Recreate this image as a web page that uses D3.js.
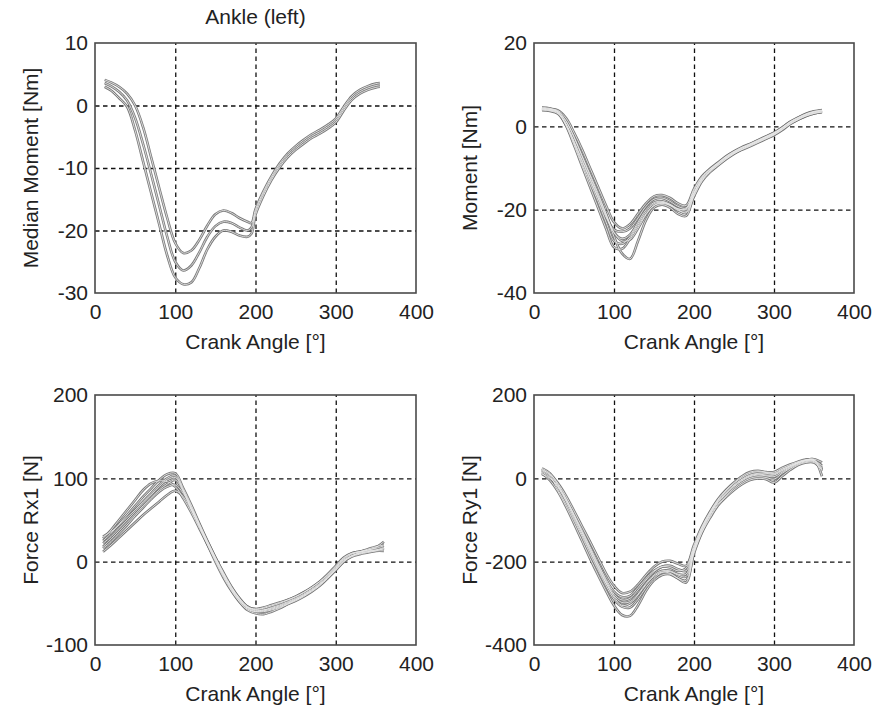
<!DOCTYPE html>
<html>
<head>
<meta charset="utf-8">
<script src="https://cdn.jsdelivr.net/npm/d3@7"></script>
<style>
  body { margin: 0; background: #fff; }
  svg { display: block; }
  text { font-family: "Liberation Sans", Arial, Helvetica, sans-serif; fill: #222; }
</style>
</head>
<body>
<svg id="chart" width="876" height="710"></svg>
<script>
// ---------- data ----------
const crankTicks = [0, 100, 200, 300, 400];

// Ankle median moment: lower band, median, upper band (Nm)
const anglesMedian = [12, 20, 30, 40, 50, 60, 70, 80, 90, 100, 110, 120, 130, 140, 150, 160, 170, 180, 190, 195,
  200, 210, 220, 230, 240, 250, 260, 270, 280, 290, 300, 310, 320, 330, 340, 350, 355];
const medianLower = [3.0, 2.4, 1.2, -0.2, -4.0, -9.0, -14.0, -19.0, -24, -27.5, -28.6, -28.3, -26, -23, -21, -20, -20.2, -20.8, -21, -20.5,
  -17.5, -14.4, -11.9, -9.9, -8.3, -7.1, -6.1, -5.2, -4.5, -3.7, -2.7, -0.8, 0.9, 1.9, 2.5, 2.9, 3.0];
const medianMid = [3.6, 3.1, 2.2, 0.8, -2.0, -6.2, -11.0, -16.0, -21, -25.0, -26.4, -25.6, -23.5, -21, -19.3, -18.6, -18.8, -19.5, -20, -19.5,
  -17, -14, -11.6, -9.6, -8, -6.8, -5.8, -4.9, -4.2, -3.4, -2.4, -0.5, 1.2, 2.2, 2.8, 3.2, 3.3];
const medianUpper = [4.1, 3.7, 3.0, 1.9, 0.0, -3.5, -8.3, -13.2, -18, -22.0, -23.6, -23.2, -21.5, -19.2, -17.4, -16.8, -17.2, -18, -18.6, -18.8,
  -16.6, -13.7, -11.3, -9.3, -7.7, -6.5, -5.5, -4.6, -3.9, -3.1, -2.1, -0.2, 1.5, 2.5, 3.1, 3.5, 3.6];

// Trials: angles shared by the three multi-trial panels
const anglesTrial = [10, 20, 30, 40, 50, 60, 70, 80, 90, 100, 110, 120, 130, 140, 150, 160, 170, 180,
  190, 200, 210, 220, 230, 240, 250, 260, 270, 280, 290, 300, 310, 320, 330, 340, 350, 360];

// Moment per trial (Nm)
const moment1 = [4.4, 4.2, 3.8, 2.0, -1.5, -5.5, -10, -14.5, -19, -23, -24.5, -23.5, -21, -18.5, -16.8, -16.5, -17.2, -18.5, -19, -15, -12, -10.2, -8.7, -7.2, -6, -5, -4.2, -3.3, -2.4, -1.5, -0.3, 1.1, 2.1, 3.0, 3.6, 3.9];
const moment2 = [4.0, 3.8, 3.2, 0.6, -3.5, -8, -12.5, -17, -21.5, -25.5, -27, -26, -23, -20, -18.3, -18, -18.7, -19.8, -20, -16, -12.8, -10.8, -9.3, -7.8, -6.5, -5.6, -4.8, -3.9, -3.0, -2.1, -0.9, 0.5, 1.6, 2.5, 3.1, 3.4];
const moment3 = [4.3, 4.1, 3.6, 1.3, -2.5, -7, -11.5, -16, -21, -26.5, -30.5, -31.8, -27.5, -22.5, -19.5, -18.8, -19.5, -21, -21.5, -16.5, -13, -10.7, -9, -7.6, -6.4, -5.2, -4.4, -3.5, -2.6, -1.7, -0.5, 0.9, 1.9, 2.8, 3.4, 3.7];
const moment4 = [4.1, 3.9, 3.3, 0.5, -4, -9, -13.5, -18, -23, -27.5, -28.2, -26.5, -23.5, -20.5, -18.6, -18.2, -18.8, -19.8, -19.8, -15.8, -12.6, -10.6, -9.1, -7.6, -6.4, -5.5, -4.6, -3.7, -2.8, -1.9, -0.7, 0.7, 1.7, 2.6, 3.2, 3.5];
const moment5 = [4.5, 4.3, 3.4, 0.2, -4.5, -9.5, -14.5, -19.5, -24.5, -29, -29.4, -27, -24, -21, -19, -18.5, -19, -20.2, -20.5, -16.2, -12.4, -10.4, -8.9, -7.4, -6.2, -5.2, -4.4, -3.5, -2.6, -1.7, -0.4, 1.0, 2.0, 2.9, 3.5, 3.8];
const moment6 = [3.9, 3.7, 3.0, 0.3, -3.8, -8.3, -12.8, -17.2, -21.8, -24.8, -25.3, -24.5, -22, -19.2, -17.5, -17.2, -18, -19.2, -19.6, -15.3, -12.2, -10.3, -8.8, -7.3, -6.1, -5.1, -4.3, -3.4, -2.5, -1.6, -0.4, 1.0, 2.0, 2.9, 3.5, 3.8];
const moment7 = [4.2, 4.0, 3.5, 1.2, -2.6, -7.2, -11.8, -16.5, -21, -25.5, -27.5, -27.2, -24.5, -21.2, -19, -18.3, -18.9, -20, -20.8, -16.8, -13.2, -11, -9.4, -7.9, -6.6, -5.5, -4.6, -3.8, -2.9, -2.0, -0.8, 0.6, 1.6, 2.5, 3.1, 3.5];

// Force Rx1 per trial (N)
const rx1 = [25, 34, 45, 56, 67, 78, 88, 98, 105, 106, 88, 68, 46, 25, 5, -14, -31, -45, -55, -59, -58, -56, -53, -49, -45, -40, -34, -27, -18, -8, 2, 7, 10, 12, 14, 17];
const rx2 = [12, 20, 29, 38, 47, 56, 64, 72, 80, 85, 78, 62, 43, 23, 4, -15, -32, -46, -56, -60, -59, -57, -54, -50, -46, -41, -35, -28, -19, -9, 1, 7, 11, 14, 17, 24];
const rx3 = [28, 38, 50, 62, 74, 86, 94, 97, 96, 90, 76, 59, 40, 21, 2, -17, -33, -46, -55, -57, -56, -53, -50, -46, -42, -37, -31, -24, -15, -5, 5, 10, 12, 13, 14, 15];
const rx4 = [18, 27, 37, 47, 57, 67, 77, 86, 93, 98, 84, 64, 43, 22, 2, -17, -34, -48, -58, -62, -63, -60, -56, -51, -46, -41, -35, -28, -19, -10, 0, 6, 9, 11, 13, 16];
const rx5 = [22, 30, 40, 50, 60, 70, 80, 90, 98, 101, 86, 66, 45, 24, 4, -15, -31, -44, -54, -57, -55, -52, -49, -46, -42, -37, -31, -24, -16, -6, 4, 10, 12, 14, 16, 19];
const rx6 = [16, 24, 34, 44, 55, 65, 75, 84, 90, 92, 82, 64, 44, 24, 5, -13, -30, -44, -54, -58, -58, -55, -52, -48, -44, -39, -33, -26, -17, -7, 3, 9, 12, 15, 18, 20];
const rx7 = [30, 36, 44, 53, 62, 72, 82, 92, 100, 103, 85, 63, 42, 21, 0, -19, -35, -48, -57, -60, -60, -58, -55, -51, -47, -42, -36, -29, -20, -10, 0, 7, 10, 12, 13, 13];

// Force Ry1 per trial (N)
const ry1 = [20, 10, -12, -42, -78, -115, -152, -190, -228, -258, -275, -272, -255, -232, -212, -200, -198, -205, -210, -160, -115, -80, -50, -28, -10, 5, 15, 18, 15, 15, 25, 33, 40, 45, 44, 25];
const ry2 = [12, -5, -32, -68, -108, -150, -192, -232, -270, -305, -328, -330, -305, -270, -245, -232, -230, -240, -245, -180, -130, -95, -65, -45, -28, -14, -4, 0, -2, -10, 5, 20, 32, 38, 38, 20];
const ry3 = [15, 2, -22, -55, -95, -135, -175, -215, -252, -282, -298, -296, -278, -252, -232, -222, -222, -230, -230, -172, -124, -88, -58, -38, -20, -6, 4, 8, 6, 4, 15, 26, 36, 42, 42, 22];
const ry4 = [24, 12, -15, -48, -88, -130, -172, -212, -250, -285, -305, -300, -280, -255, -235, -225, -228, -240, -250, -175, -120, -82, -52, -30, -12, 2, 12, 16, 14, 12, 22, 30, 38, 44, 46, 38];
const ry5 = [18, 5, -28, -62, -100, -140, -182, -220, -258, -290, -308, -310, -290, -262, -240, -226, -224, -232, -236, -176, -128, -92, -62, -42, -24, -10, 0, 4, 2, -2, 12, 24, 34, 40, 40, 18];
const ry6 = [10, 0, -20, -52, -90, -128, -168, -208, -246, -278, -292, -288, -268, -244, -224, -212, -210, -218, -222, -168, -122, -86, -56, -36, -18, -4, 6, 10, 8, 8, 18, 28, 37, 43, 43, 30];
const ry7 = [22, 8, -18, -50, -86, -124, -164, -204, -242, -272, -285, -282, -262, -240, -222, -212, -214, -222, -216, -165, -118, -84, -54, -34, -16, -2, 8, 12, 12, 10, 20, 30, 38, 44, 45, 5];

// ---------- layout ----------
const panels = [
  { left: 95, right: 416, top: 43, bottom: 293, domain: [-30, 10], ticks: [-30, -20, -10, 0, 10],
    ylabel: "Median Moment [Nm]", title: "Ankle (left)", angles: anglesMedian,
    series: [medianLower, medianMid, medianUpper] },
  { left: 534, right: 854, top: 43, bottom: 293, domain: [-40, 20], ticks: [-40, -20, 0, 20],
    ylabel: "Moment [Nm]", angles: anglesTrial,
    series: [moment1, moment2, moment3, moment4, moment5, moment6, moment7] },
  { left: 95, right: 416, top: 395, bottom: 645, domain: [-100, 200], ticks: [-100, 0, 100, 200],
    ylabel: "Force Rx1 [N]", angles: anglesTrial,
    series: [rx1, rx2, rx3, rx4, rx5, rx6, rx7] },
  { left: 534, right: 854, top: 395, bottom: 645, domain: [-400, 200], ticks: [-400, -200, 0, 200],
    ylabel: "Force Ry1 [N]", angles: anglesTrial,
    series: [ry1, ry2, ry3, ry4, ry5, ry6, ry7] }
];

// plain hyphen-minus tick labels
const plainNumber = d => String(d);

const svg = d3.select("#chart");
svg.append("rect").attr("width", 876).attr("height", 710).attr("fill", "#fff");

panels.forEach(p => {
  const w = p.right - p.left, h = p.bottom - p.top;
  const x = d3.scaleLinear().domain([0, 400]).range([p.left, p.right]);
  const y = d3.scaleLinear().domain(p.domain).range([p.bottom, p.top]);
  const g = svg.append("g");

  // dashed grid at interior ticks
  const innerX = crankTicks.slice(1, -1);
  const innerY = p.ticks.slice(1, -1);
  g.append("g").attr("transform", `translate(0,${p.bottom})`)
    .call(d3.axisBottom(x).tickValues(innerX).tickSize(-h).tickFormat(""))
    .call(a => a.select(".domain").remove())
    .call(a => a.selectAll("line").attr("stroke", "#111").attr("stroke-width", 1.3).attr("stroke-dasharray", "4.5,3.5"));
  g.append("g").attr("transform", `translate(${p.left},0)`)
    .call(d3.axisLeft(y).tickValues(innerY).tickSize(-w).tickFormat(""))
    .call(a => a.select(".domain").remove())
    .call(a => a.selectAll("line").attr("stroke", "#111").attr("stroke-width", 1.3).attr("stroke-dasharray", "4.5,3.5"));

  // curves (dark outline with pale core)
  const line = d3.line()
    .x((d, i) => x(p.angles[i]))
    .y(d => y(d))
    .curve(d3.curveCatmullRom);
  const curves = g.append("g").attr("fill", "none");
  p.series.forEach(s => {
    curves.append("path").attr("d", line(s)).attr("stroke", "#7a7a7a").attr("stroke-width", 2.6);
  });
  p.series.forEach(s => {
    curves.append("path").attr("d", line(s)).attr("stroke", "#e6e6e6").attr("stroke-width", 0.9);
  });

  // frame
  g.append("rect").attr("x", p.left).attr("y", p.top).attr("width", w).attr("height", h)
    .attr("fill", "none").attr("stroke", "#4a4a4a").attr("stroke-width", 1.6);

  // tick labels
  g.append("g").attr("transform", `translate(0,${p.bottom})`)
    .call(d3.axisBottom(x).tickValues(crankTicks).tickSize(0).tickPadding(11).tickFormat(plainNumber))
    .call(a => a.select(".domain").remove())
    .call(a => a.selectAll("text").style("font-size", "21px").attr("fill", "#222"));
  g.append("g").attr("transform", `translate(${p.left},0)`)
    .call(d3.axisLeft(y).tickValues(p.ticks).tickSize(0).tickPadding(7).tickFormat(plainNumber))
    .call(a => a.select(".domain").remove())
    .call(a => a.selectAll("text").style("font-size", "21px").attr("fill", "#222"));

  // axis titles
  g.append("text").attr("x", (p.left + p.right) / 2).attr("y", p.bottom + 56)
    .attr("text-anchor", "middle").style("font-size", "21px").text("Crank Angle [°]");
  g.append("text")
    .attr("transform", `translate(${p.left - 64},${(p.top + p.bottom) / 2}) rotate(-90)`)
    .attr("text-anchor", "middle").attr("dy", "0.35em").style("font-size", "21px").text(p.ylabel);
  if (p.title) {
    g.append("text").attr("x", (p.left + p.right) / 2).attr("y", p.top - 19)
      .attr("text-anchor", "middle").style("font-size", "21px").text(p.title);
  }
});
</script>
</body>
</html>
